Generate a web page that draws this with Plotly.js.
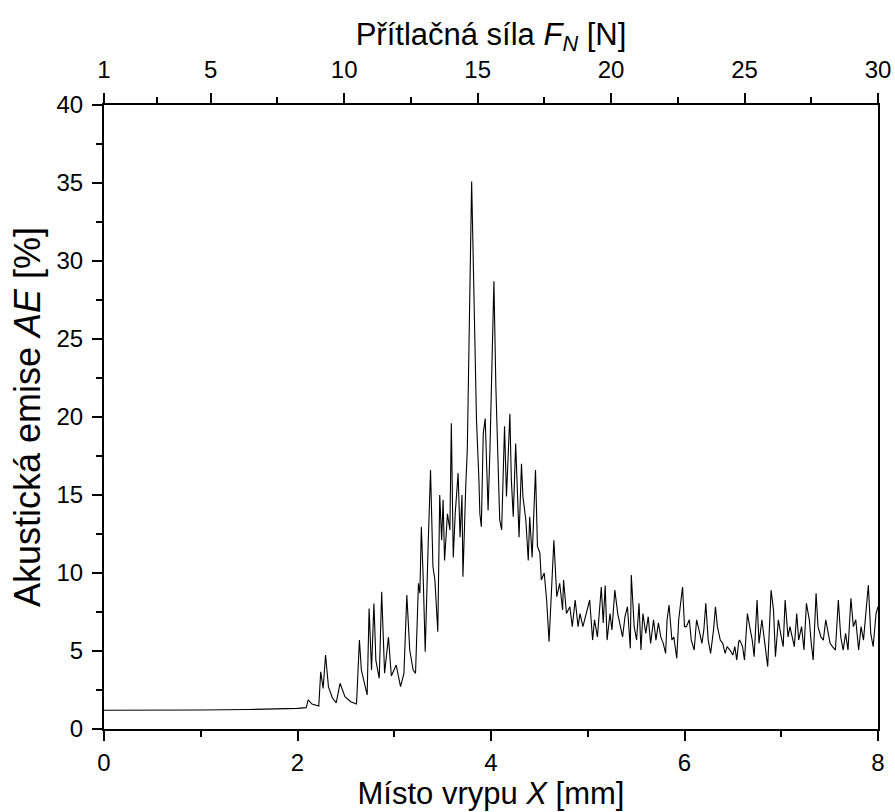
<!DOCTYPE html>
<html>
<head>
<meta charset="utf-8">
<script src="https://cdn.plot.ly/plotly-3.0.1.min.js"></script>
<style>html,body{margin:0;padding:0;background:#fff;}#chart{width:895px;height:812px;}</style>
</head>
<body>
<div id="chart"></div>
<script>
// Position along scratch X [mm]
const X = [
  0, 0.5, 1.0, 1.5, 1.8, 2.0, 2.09, 2.11, 2.15, 2.22, 2.24, 2.265, 2.29, 2.32, 2.36, 2.40, 2.44, 2.49, 2.55, 2.61,
  2.64, 2.66, 2.72, 2.74, 2.765, 2.79, 2.81, 2.845, 2.87, 2.90, 2.94, 2.97, 3.02, 3.065, 3.10, 3.13, 3.16, 3.195, 3.22, 3.25,
  3.265, 3.28, 3.30, 3.32, 3.35, 3.375, 3.40, 3.42, 3.45, 3.47, 3.49, 3.505, 3.52, 3.55, 3.575, 3.59, 3.61, 3.63, 3.66, 3.68,
  3.70, 3.71, 3.74, 3.755, 3.80, 3.85, 3.875, 3.885, 3.90, 3.92, 3.94, 3.955, 3.97, 3.99, 4.005, 4.03, 4.05, 4.075, 4.09, 4.11,
  4.14, 4.16, 4.18, 4.195, 4.21, 4.23, 4.255, 4.27, 4.29, 4.315, 4.33, 4.36, 4.385, 4.40, 4.425, 4.46, 4.48, 4.505, 4.52, 4.55,
  4.575, 4.60, 4.63, 4.65, 4.68, 4.71, 4.74, 4.75, 4.78, 4.815, 4.84, 4.87, 4.90, 4.92, 4.95, 4.99, 5.02, 5.05, 5.07, 5.10,
  5.125, 5.14, 5.16, 5.18, 5.20, 5.23, 5.25, 5.28, 5.31, 5.33, 5.36, 5.385, 5.41, 5.44, 5.45, 5.48, 5.505, 5.53, 5.55, 5.57,
  5.60, 5.625, 5.65, 5.68, 5.705, 5.73, 5.755, 5.78, 5.805, 5.82, 5.84, 5.87, 5.89, 5.92, 5.94, 5.96, 5.98, 6.00, 6.02, 6.05,
  6.07, 6.10, 6.125, 6.15, 6.18, 6.20, 6.22, 6.245, 6.27, 6.30, 6.32, 6.34, 6.37, 6.395, 6.42, 6.44, 6.47, 6.50, 6.52, 6.54,
  6.56, 6.57, 6.60, 6.62, 6.65, 6.68, 6.70, 6.72, 6.75, 6.77, 6.80, 6.83, 6.86, 6.895, 6.92, 6.94, 6.97, 7.00, 7.02, 7.04,
  7.07, 7.09, 7.115, 7.135, 7.16, 7.18, 7.21, 7.235, 7.26, 7.29, 7.31, 7.33, 7.36, 7.38, 7.41, 7.435, 7.46, 7.48, 7.505, 7.53,
  7.56, 7.59, 7.615, 7.64, 7.665, 7.69, 7.72, 7.745, 7.77, 7.80, 7.825, 7.85, 7.87, 7.90, 7.925, 7.95, 7.98, 8.0
];
// Acoustic emission AE [%]
const AE = [
  1.2, 1.2, 1.22, 1.25, 1.28, 1.32, 1.37, 1.86, 1.6, 1.47, 3.67, 2.6, 4.74, 2.7, 2.0, 1.67, 2.93, 2.07, 1.75, 1.6,
  5.7, 3.78, 2.18, 7.73, 3.78, 8.05, 4.4, 3.25, 8.8, 3.57, 5.9, 3.4, 4.1, 2.71, 3.57, 8.59, 5.06, 3.78, 3.57, 9.34,
  8.7, 12.97, 9.55, 4.96, 11.7, 16.6, 10.4, 9.55, 6.24, 15.0, 12.1, 14.7, 10.8, 13.8, 12.76, 19.6, 11.0, 13.8, 16.4, 12.3,
  15.0, 9.76, 15.75, 17.9, 35.1, 19.8, 16.0, 13.8, 12.97, 18.95, 19.9, 16.4, 14.0, 18.1, 21.5, 28.7, 22.0, 16.0, 13.4, 12.76,
  19.4, 14.9, 17.7, 20.2, 16.0, 13.6, 18.3, 15.3, 12.3, 17.0, 14.9, 13.4, 10.8, 13.6, 11.0, 16.6, 11.7, 11.3, 9.55, 10.0,
  8.27, 5.6, 9.76, 12.1, 8.48, 9.34, 7.63, 9.55, 7.4, 7.84, 6.56, 8.27, 6.56, 7.4, 6.56, 7.63, 8.27, 5.7, 7.0, 5.9,
  8.27, 9.1, 6.8, 9.2, 5.7, 7.4, 6.35, 8.9, 7.4, 6.8, 5.9, 7.2, 7.84, 5.17, 9.87, 6.56, 5.7, 8.06, 5.06, 7.4,
  6.13, 7.2, 5.49, 7.0, 5.7, 6.8, 5.9, 5.49, 4.85, 7.0, 7.95, 5.7, 5.9, 4.53, 7.0, 8.06, 9.1, 6.56, 6.56, 7.0,
  5.7, 5.06, 7.0, 6.35, 5.49, 6.35, 8.06, 5.7, 4.85, 6.35, 7.84, 6.56, 5.7, 5.49, 4.85, 5.28, 5.06, 4.74, 5.28, 4.42,
  5.6, 5.7, 5.28, 4.42, 7.4, 6.35, 5.7, 4.63, 8.27, 5.49, 7.0, 5.49, 4.0, 8.9, 7.63, 4.63, 7.0, 5.9, 5.28, 8.27,
  5.9, 6.56, 5.7, 5.28, 7.4, 5.7, 6.56, 5.06, 8.06, 7.0, 5.49, 4.42, 8.7, 6.56, 5.9, 5.7, 7.0, 6.35, 5.49, 5.28,
  5.06, 8.27, 5.9, 5.06, 6.13, 5.06, 8.38, 6.56, 7.0, 5.06, 6.56, 5.7, 7.0, 9.23, 6.13, 5.28, 7.4, 7.84
];
// Top axis: normal force F_N [N]
const FN_RANGE = [1, 30];
const FN_TICKS = [1, 5, 10, 15, 20, 25, 30];
const FN_MINOR = [3, 7.5, 12.5, 17.5, 22.5, 27.5];
const X_TICKS = [0, 2, 4, 6, 8];
const X_MINOR = [1, 3, 5, 7];

const FONT = 'Liberation Sans, Arial, Helvetica, sans-serif';
const tickFont = {family: FONT, size: 24, color: '#000'};
const xTitleFont = {family: FONT, size: 31, color: '#000'};
const yTitleFont = {family: FONT, size: 36, color: '#000'};

const traces = [
  {x: X, y: AE, type: 'scatter', mode: 'lines', line: {color: '#000', width: 1.1}, hoverinfo: 'skip', showlegend: false},
  {x: FN_RANGE, y: [0, 0], xaxis: 'x2', type: 'scatter', mode: 'markers', marker: {opacity: 0, size: 1}, showlegend: false, hoverinfo: 'skip'}
];

const common = {showgrid: false, zeroline: false, showline: true, linecolor: '#000', linewidth: 2,
  ticks: 'outside', ticklen: 10, tickwidth: 2, tickcolor: '#000', tickfont: tickFont};

const layout = {
  width: 895, height: 812,
  margin: {l: 104, r: 17, t: 105, b: 83},
  paper_bgcolor: '#fff', plot_bgcolor: '#fff',
  font: {family: FONT, color: '#000'},
  showlegend: false,
  xaxis: Object.assign({}, common, {
    range: [0, 8], tickmode: 'array', tickvals: X_TICKS, ticklabelstandoff: 1,
    minor: {tickmode: 'array', tickvals: X_MINOR, ticks: 'outside', ticklen: 6, tickwidth: 2, tickcolor: '#000'},
    title: {text: 'Místo vrypu <i>X</i> [mm]', font: xTitleFont, standoff: 2}
  }),
  xaxis2: Object.assign({}, common, {
    overlaying: 'x', side: 'top', anchor: 'y', range: FN_RANGE, tickmode: 'array', tickvals: FN_TICKS, ticklabelstandoff: 5,
    minor: {tickmode: 'array', tickvals: FN_MINOR, ticks: 'outside', ticklen: 6, tickwidth: 2, tickcolor: '#000'},
    title: {text: 'Přítlačná síla <i>F</i><sub><i>N</i></sub> [N]', font: xTitleFont, standoff: 2}
  }),
  yaxis: Object.assign({}, common, {
    range: [0, 40], tickmode: 'linear', tick0: 0, dtick: 5, mirror: true, ticklabelstandoff: 4,
    minor: {tickmode: 'linear', tick0: 0, dtick: 2.5, ticks: 'outside', ticklen: 6, tickwidth: 2, tickcolor: '#000'},
    title: {text: 'Akustická emise <i>AE</i> [%]', font: yTitleFont, standoff: 5}
  })
};

Plotly.newPlot('chart', traces, layout, {displayModeBar: false, staticPlot: true});
</script>
</body>
</html>
